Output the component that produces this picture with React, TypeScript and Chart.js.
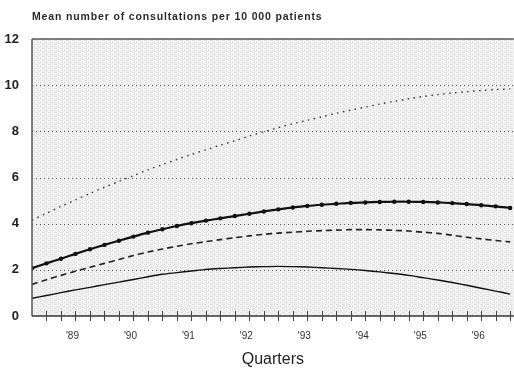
import React, { useEffect, useRef } from 'react';
import { Chart, registerables } from 'chart.js';

Chart.register(...registerables);

// Quarter index (0 = left edge of the plot, one step per quarter)
const quarters = [
  0, 1, 2, 3, 4, 5, 6, 7, 8, 9, 10, 11, 12, 13, 14, 15, 16,
  17, 18, 19, 20, 21, 22, 23, 24, 25, 26, 27, 28, 29, 30, 31, 32, 33,
];
const yearLabels = ["'89", "'90", "'91", "'92", "'93", "'94", "'95", "'96"];
const yTicks = [0, 2, 4, 6, 8, 10, 12];

const seriesDotted = [
  4.15, 4.45, 4.75, 5.03, 5.31, 5.58, 5.83, 6.08, 6.33, 6.56, 6.78, 7.0, 7.2, 7.4, 7.59, 7.8, 7.98,
  8.16, 8.33, 8.48, 8.63, 8.78, 8.92, 9.05, 9.18, 9.3, 9.41, 9.51, 9.59, 9.66, 9.72, 9.77, 9.81, 9.84,
];
const seriesMarked = [
  2.07, 2.28, 2.48, 2.69, 2.89, 3.08, 3.26, 3.44, 3.61, 3.76, 3.9, 4.02, 4.13, 4.23, 4.33, 4.43, 4.53,
  4.62, 4.7, 4.77, 4.82, 4.86, 4.9, 4.92, 4.94, 4.95, 4.95, 4.94, 4.92, 4.89, 4.85, 4.8, 4.75, 4.68,
];
const seriesDashed = [
  1.37, 1.57, 1.76, 1.94, 2.11, 2.28, 2.45, 2.62, 2.77, 2.9, 3.02, 3.13, 3.22, 3.31, 3.39, 3.47, 3.54,
  3.59, 3.63, 3.67, 3.7, 3.72, 3.74, 3.74, 3.73, 3.71, 3.68, 3.63, 3.58, 3.5, 3.41, 3.34, 3.27, 3.21,
];
const seriesSolid = [
  0.77, 0.89, 1.01, 1.13, 1.24, 1.36, 1.47, 1.58, 1.7, 1.81, 1.88, 1.95, 2.02, 2.06, 2.09, 2.12, 2.14,
  2.15, 2.14, 2.12, 2.09, 2.06, 2.02, 1.97, 1.91, 1.84, 1.76, 1.66, 1.56, 1.45, 1.33, 1.2, 1.08, 0.95,
];

const titleText = 'Mean number of consultations per 10 000 patients';
const xTitle = 'Quarters';

const toPoints = (vals: number[]) => quarters.map((q, i) => ({ x: q, y: vals[i] }));

function makePattern(ctx: CanvasRenderingContext2D) {
  const p = document.createElement('canvas');
  p.width = 6;
  p.height = 4;
  const c = p.getContext('2d')!;
  c.fillStyle = '#f5f5f5';
  c.fillRect(0, 0, 6, 4);
  c.fillStyle = '#e0e0e0';
  c.fillRect(0, 0, 3, 1);
  c.fillRect(4, 1, 1, 2);
  c.fillRect(1, 2, 2, 1);
  c.fillStyle = '#ebebeb';
  c.fillRect(3, 3, 3, 1);
  return ctx.createPattern(p, 'repeat');
}

const paperPlugin = {
  id: 'paper',
  beforeDatasetsDraw(chart: any) {
    const { ctx, chartArea: a, scales } = chart;
    ctx.save();
    ctx.fillStyle = makePattern(ctx) || '#eeeeee';
    ctx.fillRect(a.left, a.top, a.right - a.left, a.bottom - a.top);
    ctx.strokeStyle = '#555';
    ctx.lineWidth = 1;
    ctx.setLineDash([1, 3]);
    for (const t of scales.y.ticks) {
      if (t.value <= 0 || t.value >= 12) continue;
      const y = Math.round(scales.y.getPixelForValue(t.value)) + 0.5;
      ctx.beginPath();
      ctx.moveTo(a.left, y);
      ctx.lineTo(a.right, y);
      ctx.stroke();
    }
    ctx.restore();
  },
  afterDatasetsDraw(chart: any) {
    const { ctx, chartArea: a, scales } = chart;
    ctx.save();
    ctx.setLineDash([]);
    ctx.strokeStyle = '#555';
    ctx.lineWidth = 1.5;
    const yTop = scales.y.getPixelForValue(12);
    ctx.beginPath();
    ctx.moveTo(a.left, yTop);
    ctx.lineTo(a.right, yTop);
    ctx.stroke();
    ctx.beginPath();
    ctx.moveTo(a.left, a.top);
    ctx.lineTo(a.left, a.bottom);
    ctx.stroke();
    ctx.strokeStyle = '#333';
    const y0 = scales.y.getPixelForValue(0);
    ctx.beginPath();
    ctx.moveTo(a.left, y0);
    ctx.lineTo(a.right, y0);
    ctx.stroke();
    ctx.lineWidth = 1;
    ctx.strokeStyle = '#444';
    for (const q of quarters) {
      if (q === 0) continue;
      const x = Math.round(scales.x.getPixelForValue(q)) + 0.5;
      ctx.beginPath();
      ctx.moveTo(x, y0 - 5);
      ctx.lineTo(x, y0 + 5);
      ctx.stroke();
    }
    ctx.restore();
  },
  afterDraw(chart: any) {
    const { ctx, chartArea: a } = chart;
    ctx.save();
    ctx.fillStyle = '#2a2a2a';
    ctx.font = "bold 10.5px 'Liberation Sans', Arial, sans-serif";
    ctx.textBaseline = 'alphabetic';
    ctx.textAlign = 'left';
    try {
      (ctx as any).letterSpacing = '0.85px';
    } catch (e) {}
    ctx.fillText(titleText, a.left, 20);
    ctx.restore();
  },
};

export default function App() {
  const ref = useRef<HTMLCanvasElement | null>(null);

  useEffect(() => {
    document.body.style.margin = '0';
    const canvas = ref.current!;
    const chart = new Chart(canvas, {
      type: 'line',
      data: {
        datasets: [
          {
            label: 'dotted',
            data: toPoints(seriesDotted),
            borderColor: '#333',
            borderWidth: 1.4,
            borderDash: [1.5, 4.5],
            pointRadius: 0,
            pointHoverRadius: 0,
            pointBorderWidth: 0,
            tension: 0.3,
            fill: false,
          },
          {
            label: 'marked',
            data: toPoints(seriesMarked),
            borderColor: '#111',
            borderWidth: 2.2,
            pointRadius: 2.2,
            pointHoverRadius: 2.2,
            pointBackgroundColor: '#111',
            pointBorderWidth: 0,
            tension: 0.3,
            fill: false,
          },
          {
            label: 'dashed',
            data: toPoints(seriesDashed),
            borderColor: '#222',
            borderWidth: 1.6,
            borderDash: [6, 4],
            pointRadius: 0,
            pointHoverRadius: 0,
            pointBorderWidth: 0,
            tension: 0.3,
            fill: false,
          },
          {
            label: 'solid',
            data: toPoints(seriesSolid),
            borderColor: '#111',
            borderWidth: 1.4,
            pointRadius: 0,
            pointHoverRadius: 0,
            pointBorderWidth: 0,
            tension: 0.3,
            fill: false,
          },
        ],
      },
      options: {
        responsive: false,
        animation: false,
        events: [],
        layout: { padding: { top: 39, left: 0, right: 0, bottom: 0 } },
        plugins: {
          legend: { display: false },
          tooltip: { enabled: false },
          title: { display: false },
        },
        scales: {
          x: {
            type: 'linear',
            min: 0,
            max: 33.25,
            grid: {
              display: true,
              drawOnChartArea: false,
              drawTicks: true,
              tickLength: 14,
              tickColor: 'rgba(0,0,0,0)',
              color: 'rgba(0,0,0,0)',
            },
            border: { display: false },
            afterFit: (s: any) => {
              s.height = 53;
              s.paddingLeft = 0;
              s.paddingRight = 0;
            },
            ticks: {
              stepSize: 1,
              autoSkip: false,
              maxRotation: 0,
              padding: 0,
              labelOffset: -3,
              color: '#333',
              font: { family: "'Liberation Sans', Arial, sans-serif", size: 10 },
              callback: (v: any) => {
                const i = (Number(v) - 3) / 4;
                return Number.isInteger(i) && i >= 0 && i < yearLabels.length ? yearLabels[i] : '';
              },
            },
            title: {
              display: true,
              text: xTitle,
              color: '#222',
              padding: { top: 0, bottom: 0 },
              font: { family: "'Liberation Sans', Arial, sans-serif", size: 16 },
            },
          },
          y: {
            min: 0,
            max: 12,
            afterBuildTicks: (s: any) => {
              s.ticks = yTicks.map((v) => ({ value: v }));
            },
            afterFit: (s: any) => {
              s.width = 32;
            },
            grid: { display: false },
            border: { display: false },
            ticks: {
              padding: 5,
              color: '#222',
              font: { family: "'Liberation Sans', Arial, sans-serif", size: 13, weight: 'bold' },
            },
          },
        },
      },
      plugins: [paperPlugin],
    } as any);
    return () => chart.destroy();
  }, []);

  return (
    <div
      style={{
        position: 'fixed',
        left: 0,
        top: 0,
        width: 514,
        height: 369,
        overflow: 'hidden',
        background: '#fff',
      }}
    >
      <canvas ref={ref} width={516} height={369} style={{ display: 'block' }} />
    </div>
  );
}
